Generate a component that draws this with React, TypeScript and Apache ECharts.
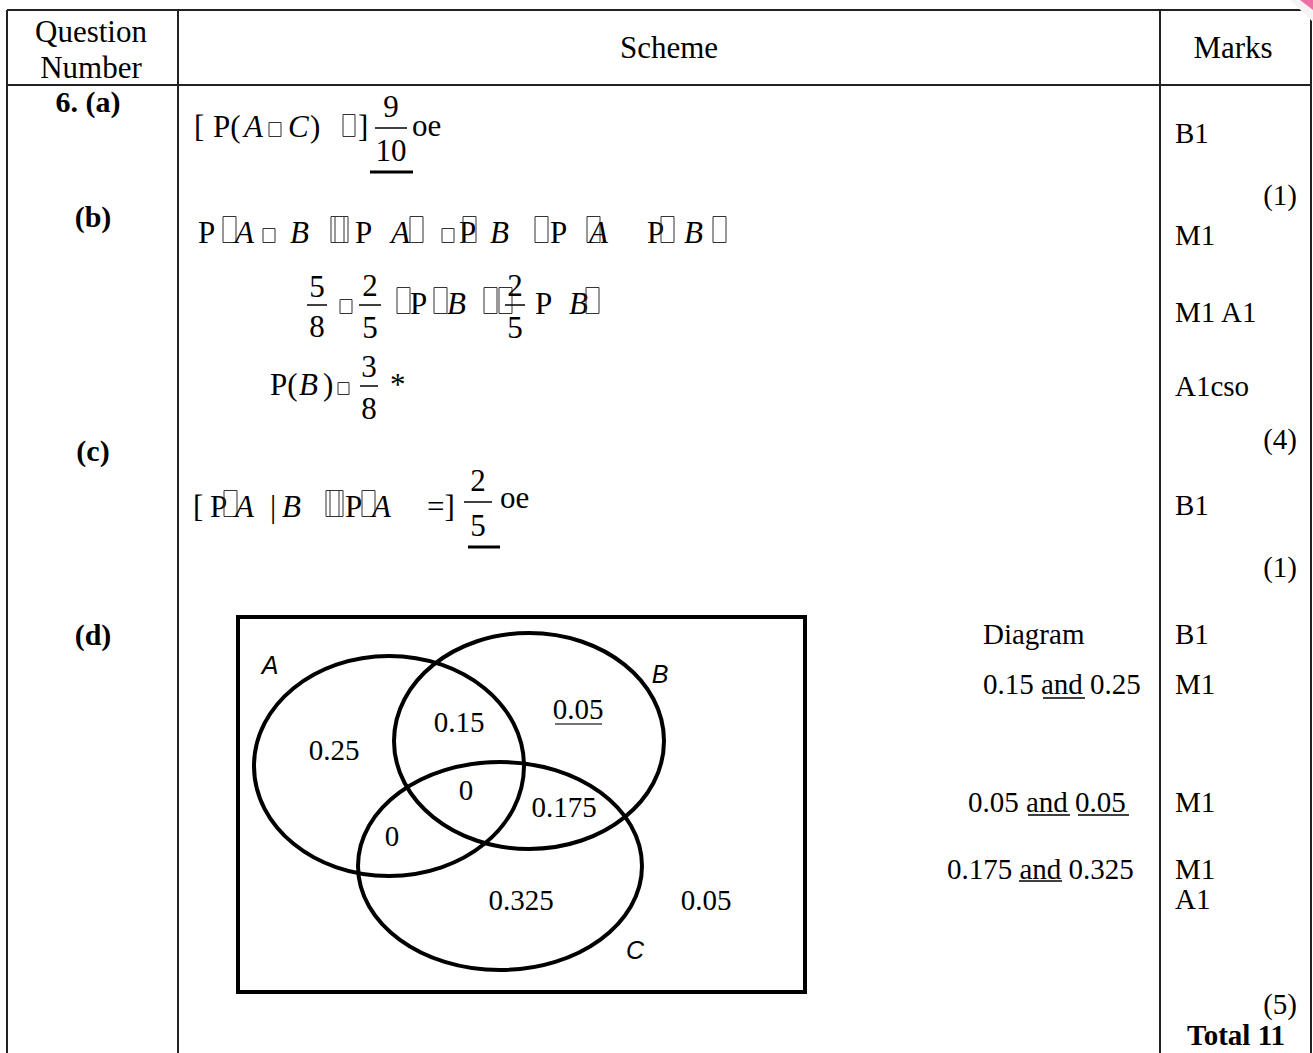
import React, { useEffect, useRef } from "react";
import * as echarts from "echarts";

// ---- content ----
const headerLabels = ["Question", "Number", "Scheme", "Marks"];
const questionNumber = "6.";
const partLabels = ["(a)", "(b)", "(c)", "(d)"];
const partTotals = ["(1)", "(4)", "(1)", "(5)"];
const totalMarks = 11;
const marksA = ["B1"];
const marksB = ["M1", "M1 A1", "A1cso"];
const marksC = ["B1"];
const marksD = ["B1", "M1", "M1", "M1", "A1"];
const fracA = ["9", "10"];
const fracB1 = ["5", "8"];
const fracB2 = ["2", "5"];
const fracB3 = ["3", "8"];
const fracC = ["2", "5"];
const setNames = ["A", "B", "C"];
// regions: A only, A∩B only, B only, A∩B∩C, B∩C only, A∩C only, C only, outside
const vennValues = ["0.25", "0.15", "0.05", "0", "0.175", "0", "0.325", "0.05"];
const criteriaD = ["Diagram", "0.15", "0.25", "0.05", "0.05", "0.175", "0.325"];

const SERIF = "'Liberation Serif', 'Times New Roman', serif";
const SANS = "'Liberation Sans', Arial, sans-serif";
const EQ = 31; // equation font size

type TOpt = { italic?: boolean; bold?: boolean; size?: number; family?: string; align?: string };

function txt(x: number, y: number, text: string, o: TOpt = {}) {
  const font = `${o.italic ? "italic " : ""}${o.bold ? "bold " : ""}${o.size || 29}px ${o.family || SERIF}`;
  const align = o.align || "left";
  return {
    type: "text",
    x,
    y,
    silent: true,
    style: {
      text,
      fill: "#000",
      font,
      textAlign: align,
      align,
      textVerticalAlign: "middle",
      verticalAlign: "middle",
    },
  };
}
function eq(x: number, y: number, text: string, italic = false, align = "left") {
  return txt(x, y, text, { size: EQ, italic, align });
}
function ln(x1: number, y1: number, x2: number, y2: number, w = 2, c = "#000") {
  return { type: "line", silent: true, shape: { x1, y1, x2, y2 }, style: { stroke: c, lineWidth: w } };
}
// missing-glyph boxes as in the reference rendering (bottom on the baseline)
function tofu(x: number, c: number, w = 13, h = 26) {
  const base = c + 10.5;
  return {
    type: "rect",
    silent: true,
    shape: { x, y: base - h, width: w, height: h },
    style: { fill: "none", stroke: "#333", lineWidth: 1 },
  };
}
function sq(x: number, c: number, w = 12, h = 14) {
  const base = c + 10.5;
  return {
    type: "rect",
    silent: true,
    shape: { x, y: base - h, width: w, height: h },
    style: { fill: "none", stroke: "#333", lineWidth: 1 },
  };
}
function frac(cx: number, barY: number, half: number, f: string[], numY: number, denY: number) {
  return [eq(cx, numY, f[0], false, "center"), ln(cx - half, barY, cx + half, barY, 1.5), eq(cx, denY, f[1], false, "center")];
}

function buildElements() {
  const els: any[] = [];
  // ---- table frame ----
  const L = 7, C1 = 178, C2 = 1160, R = 1311, TOP = 10, HB = 85, BOT = 1053;
  els.push(ln(L, TOP, R, TOP, 2, "#222"));
  els.push(ln(L, HB, R, HB, 2, "#222"));
  els.push(ln(L, TOP, L, BOT, 2, "#222"));
  els.push(ln(C1, TOP, C1, BOT, 2, "#222"));
  els.push(ln(C2, TOP, C2, BOT, 2, "#222"));
  els.push(ln(R, TOP, R, BOT, 2, "#222"));

  // header
  els.push(txt(91, 31, headerLabels[0], { size: 31, align: "center" }));
  els.push(txt(91, 67, headerLabels[1], { size: 31, align: "center" }));
  els.push(txt(669, 47, headerLabels[2], { size: 31, align: "center" }));
  els.push(txt(1233, 47, headerLabels[3], { size: 31, align: "center" }));

  // part labels
  els.push(txt(88, 101, `${questionNumber} ${partLabels[0]}`, { bold: true, size: 30, align: "center" }));
  els.push(txt(93, 216, partLabels[1], { bold: true, size: 30, align: "center" }));
  els.push(txt(93, 450, partLabels[2], { bold: true, size: 30, align: "center" }));
  els.push(txt(93, 634, partLabels[3], { bold: true, size: 30, align: "center" }));

  // ---- (a) ----
  {
    const c = 126;
    els.push(eq(194, c, "["));
    els.push(eq(213, c, "P("));
    els.push(eq(244, c, "A", true));
    els.push(sq(269, c));
    els.push(eq(288, c, "C", true));
    els.push(eq(310, c, ")"));
    els.push(tofu(343, c, 12, 22));
    els.push(eq(358, c, "]"));
    els.push(...frac(391, 128, 16, fracA, 106, 150));
    els.push(eq(412, 125, "oe"));
    els.push(ln(370, 172, 413, 172, 3));
  }
  els.push(txt(1175, 133, marksA[0]));
  els.push(txt(1297, 195, partTotals[0], { align: "right" }));

  // ---- (b) ----
  {
    const c = 232;
    els.push(eq(198, c, "P"));
    els.push(tofu(223, c));
    els.push(eq(235, c, "A", true));
    els.push(sq(263, c));
    els.push(eq(290, c, "B", true));
    els.push(tofu(331, c));
    els.push(tofu(335, c));
    els.push(eq(355, c, "P"));
    els.push(eq(391, c, "A", true));
    els.push(tofu(410, c));
    els.push(sq(442, c));
    els.push(eq(459, c, "P"));
    els.push(tofu(463, c));
    els.push(eq(490, c, "B", true));
    els.push(tofu(535, c));
    els.push(eq(550, c, "P"));
    els.push(tofu(587, c));
    els.push(eq(589, c, "A", true));
    els.push(eq(647, c, "P"));
    els.push(tofu(661, c));
    els.push(eq(684, c, "B", true));
    els.push(tofu(713, c));
  }
  els.push(txt(1175, 235, marksB[0]));
  {
    const c = 303;
    els.push(...frac(317, 305, 10, fracB1, 286, 326));
    els.push(sq(340, c));
    els.push(...frac(370, 305, 11, fracB2, 285, 327));
    els.push(tofu(397, c));
    els.push(eq(410, c, "P"));
    els.push(tofu(434, c));
    els.push(eq(447, c, "B", true));
    els.push(tofu(484, c));
    els.push(tofu(499, c));
    els.push(...frac(515, 305, 10, fracB2, 285, 327));
    els.push(eq(535, c, "P"));
    els.push(eq(569, c, "B", true));
    els.push(tofu(586, c));
  }
  els.push(txt(1175, 312, marksB[1]));
  {
    const c = 384;
    els.push(eq(270, c, "P("));
    els.push(eq(299, c, "B", true));
    els.push(eq(323, c, ")"));
    els.push(sq(338, c, 11, 12));
    els.push(...frac(369, 386, 9, fracB3, 366, 408));
    els.push(eq(390, c, "*"));
  }
  els.push(txt(1175, 386, marksB[2]));
  els.push(txt(1297, 439, partTotals[1], { align: "right" }));

  // ---- (c) ----
  {
    const c = 506;
    els.push(eq(193, c, "["));
    els.push(eq(210, c, "P"));
    els.push(tofu(224, c));
    els.push(eq(235, c, "A", true));
    els.push(eq(270, c, "|"));
    els.push(eq(282, c, "B", true));
    els.push(tofu(326, c));
    els.push(tofu(330, c));
    els.push(eq(345, c, "P"));
    els.push(tofu(362, c));
    els.push(eq(372, c, "A", true));
    els.push(eq(427, c, "=]"));
    els.push(...frac(478, 502, 14, fracC, 480, 525));
    els.push(eq(500, 497, "oe"));
    els.push(ln(468, 547, 500, 547, 3));
  }
  els.push(txt(1175, 505, marksC[0]));
  els.push(txt(1297, 567, partTotals[2], { align: "right" }));

  // ---- (d) Venn diagram ----
  els.push({ type: "rect", silent: true, shape: { x: 238, y: 617, width: 567, height: 375 }, style: { fill: "none", stroke: "#000", lineWidth: 4 } });
  const ell = (cx: number, cy: number, rx: number, ry: number) => ({
    type: "ellipse",
    silent: true,
    shape: { cx, cy, rx, ry },
    style: { fill: "none", stroke: "#000", lineWidth: 4 },
  });
  els.push(ell(389, 766, 135, 110));
  els.push(ell(529, 741, 135, 108));
  els.push(ell(500, 866, 142, 104));
  els.push(txt(270, 665, setNames[0], { italic: true, family: SANS, size: 25, align: "center" }));
  els.push(txt(660, 674, setNames[1], { italic: true, family: SANS, size: 25, align: "center" }));
  els.push(txt(635, 950, setNames[2], { italic: true, family: SANS, size: 25, align: "center" }));
  const vpos = [
    [334, 750], [459, 722], [578, 709], [466, 790], [564, 807], [392, 836], [521, 900], [706, 900],
  ];
  vennValues.forEach((v, i) => els.push(txt(vpos[i][0], vpos[i][1], v, { align: "center", size: 29 })));
  els.push(ln(555, 724, 602, 724, 1.5, "#444"));

  // criteria column (d)
  els.push(txt(983, 634, criteriaD[0]));
  els.push(txt(983, 684, `${criteriaD[1]} and ${criteriaD[2]}`));
  els.push(ln(1043, 698, 1085, 698, 1.5));
  els.push(txt(968, 802, `${criteriaD[3]} and ${criteriaD[4]}`));
  els.push(ln(1028, 815, 1070, 815, 1.5));
  els.push(ln(1078, 815, 1129, 815, 1.5));
  els.push(txt(947, 869, `${criteriaD[5]} and ${criteriaD[6]}`));
  els.push(ln(1019, 881, 1062, 881, 1.5));

  const dY = [634, 684, 802, 869, 899];
  marksD.forEach((m, i) => els.push(txt(1175, dY[i], m)));
  els.push(txt(1297, 1004, partTotals[3], { align: "right" }));
  els.push(txt(1236, 1035, `Total ${totalMarks}`, { bold: true, align: "center" }));

  // page curl in the top-right corner
  els.push({ type: "polygon", silent: true, shape: { points: [[1290, 0], [1313, 0], [1313, 22]] }, style: { fill: "#f4f4f4" } });
  els.push({ type: "polygon", silent: true, shape: { points: [[1300, 0], [1313, 0], [1313, 10]] }, style: { fill: "#ee6fa6" } });
  return els;
}

export default function App() {
  const ref = useRef<HTMLDivElement>(null);
  useEffect(() => {
    if (!ref.current) return;
    const chart = echarts.init(ref.current, null, { renderer: "svg" });
    chart.setOption({
      animation: false,
      backgroundColor: "#fff",
      graphic: { elements: buildElements() },
    });
    return () => chart.dispose();
  }, []);
  return (
    <div
      ref={ref}
      style={{ position: "absolute", left: 0, top: 0, width: 1313, height: 1053, background: "#fff" }}
    />
  );
}
